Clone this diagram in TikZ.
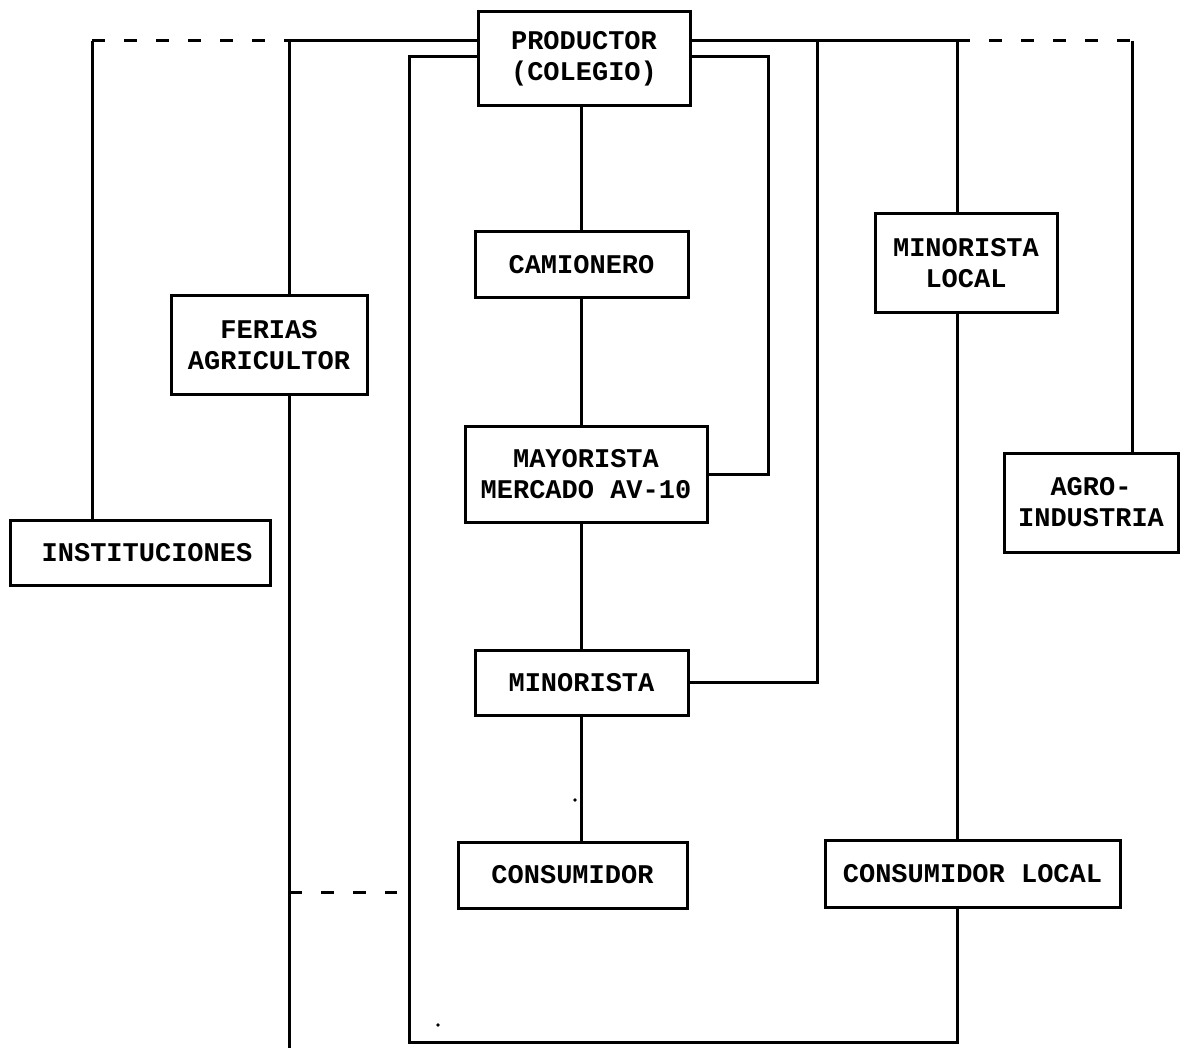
\documentclass[tikz,border=0pt]{standalone}
\usepackage{fontspec}
\newfontfamily\boxfont{Liberation Mono}
\begin{document}
\begin{tikzpicture}[x=1pt,y=-1pt,
  box/.style={draw, line width=3pt, inner sep=0pt, outer sep=0pt, align=center,
    font=\boxfont\bfseries\fontsize{27}{31}\selectfont},
  conn/.style={line width=3pt, line join=miter},
  dashline/.style={line width=3pt, dash pattern=on 13pt off 19pt}]
\useasboundingbox (0,0) rectangle (1186,1048);
\fill[white] (0,0) rectangle (1186,1048);

% boxes
\node[box, minimum width=212, minimum height=94] (prod) at (584,59) {PRODUCTOR\\(COLEGIO)};
\node[box, minimum width=213, minimum height=66] (cam) at (581.5,265) {CAMIONERO};
\node[box, minimum width=242, minimum height=96] (may) at (586,474) {MAYORISTA\\MERCADO AV-10};
\node[box, minimum width=213, minimum height=65] (minor) at (581.5,682.5) {MINORISTA};
\node[box, minimum width=229, minimum height=66] (cons) at (572.5,875) {CONSUMIDOR};
\node[box, minimum width=295, minimum height=67] (conslocal) at (972.5,873.5) {CONSUMIDOR LOCAL};
\node[box, minimum width=182, minimum height=99] (minlocal) at (966,263.5) {MINORISTA\\LOCAL};
\node[box, minimum width=196, minimum height=99] (ferias) at (269,345.5) {FERIAS\\AGRICULTOR};
\node[box, minimum width=260, minimum height=65] (inst) at (140,552.5) {\hspace*{14pt}INSTITUCIONES};
\node[box, minimum width=174, minimum height=99] (agro) at (1091,502.5) {AGRO-\\INDUSTRIA};

% junction coordinates
\coordinate (c1) at (92,41);
\coordinate (c2) at (289,41);
\coordinate (c3) at (409,57);
\coordinate (c4) at (768,57);
\coordinate (c5) at (817,41);
\coordinate (c6) at (957,41);
\coordinate (c7) at (1132,41);
\coordinate (c8) at (289,1048);
\coordinate (c9) at (409,1042);
\coordinate (c10) at (957,1042);
\coordinate (d1) at (289,892);
\coordinate (d2) at (397,892);
\coordinate (cx) at (581,0);

% left side
\draw[conn] (c1) -- (c1 |- inst.north);
\draw[dashline] (c1) -- (c2);
\draw[conn] (c2) -- (c2 -| prod.west);
\draw[conn] (c2) -- (c2 |- ferias.north);
\draw[conn] (c2 |- ferias.south) -- (c8);
\draw[dashline] (d1) -- (d2);
\draw[conn] (c3 -| prod.west) -- (c3) -- (c9) -- (c10) -- (c10 |- conslocal.south);

% right side
\draw[conn] (c6 -| prod.east) -- (c6);
\draw[dashline] (c6) -- (c7);
\draw[conn] (c7) -- (c7 |- agro.north);
\draw[conn] (c4 -| prod.east) -- (c4) -- (c4 |- may.east) -- (may.east);
\draw[conn] (c5) -- (c5 |- minor.east) -- (minor.east);
\draw[conn] (c6) -- (c6 |- minlocal.north);
\draw[conn] (c6 |- minlocal.south) -- (c6 |- conslocal.north);

% central chain
\draw[conn] (cx |- prod.south) -- (cx |- cam.north);
\draw[conn] (cx |- cam.south) -- (cx |- may.north);
\draw[conn] (cx |- may.south) -- (cx |- minor.north);
\draw[conn] (cx |- minor.south) -- (cx |- cons.north);

% specks
\fill (575,800) circle (1.8);
\fill (438,1025) circle (1.8);
\end{tikzpicture}
\end{document}
